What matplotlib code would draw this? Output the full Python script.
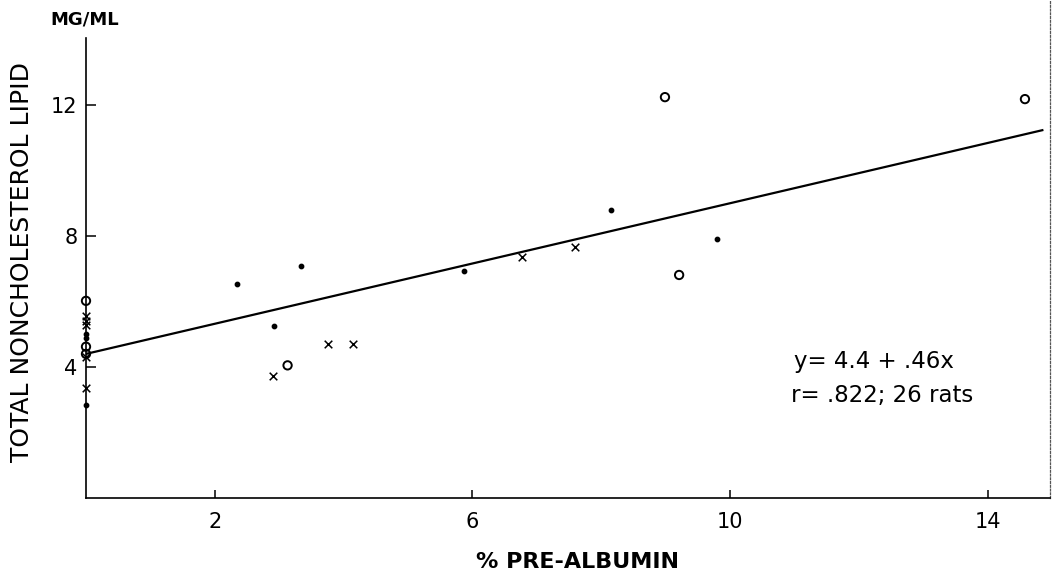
import matplotlib.pyplot as plt
import numpy as np

# values
circle_x = [0.0, 0.0, 0.0, 3.13, 8.99, 9.21, 14.58]
circle_y = [6.02, 4.62, 4.40, 4.05, 12.24, 6.81, 12.18]

cross_x = [0.0, 0.0, 0.0, 0.0, 0.0, 2.91, 3.75, 4.15, 6.77, 7.60]
cross_y = [5.55, 5.40, 5.28, 4.30, 3.35, 3.72, 4.69, 4.71, 7.36, 7.66]

dot_x = [0.0, 0.0, 0.0, 2.34, 2.92, 3.34, 5.87, 8.15, 9.80]
dot_y = [5.00, 4.88, 2.85, 6.53, 5.25, 7.07, 6.93, 8.78, 7.90]

intercept = 4.4
slope = 0.46
fit_x = [0.0, 14.85]

xticks = [2, 6, 10, 14]
yticks = [4, 8, 12]

fig = plt.figure(figsize=(10.59, 5.8), dpi=100)
W, H = 1059, 580
left, right, bottom, top = 86, 1050, 498, 0
ax = fig.add_axes([left / W, 1 - bottom / H, (right - left) / W, (bottom - top) / H])

px_x = 64.4   # pixels per x unit
px_y = 32.75  # pixels per y unit
ax.set_xlim(0, (right - left) / px_x)
ax.set_ylim(0, (bottom - top) / px_y)

# regression line
fx = np.array(fit_x)
ax.plot(fx, intercept + slope * fx, color='black', lw=1.6, zorder=2)

ax.scatter(circle_x, circle_y, s=36, facecolors='none', edgecolors='black',
           linewidths=1.4, zorder=3, clip_on=False)
ax.scatter(cross_x, cross_y, s=30, marker='x', color='black',
           linewidths=1.1, zorder=3, clip_on=False)
ax.scatter(dot_x, dot_y, s=10, color='black', zorder=3, clip_on=False)

# axes styling
ax.spines['top'].set_visible(False)
ax.spines['left'].set_bounds(0, (bottom - 38) / px_y)
ax.spines['left'].set_linewidth(1.2)
ax.spines['bottom'].set_linewidth(1.2)
ax.spines['right'].set_linestyle((0, (1.5, 1.5)))
ax.spines['right'].set_linewidth(0.9)
ax.spines['right'].set_color('#555555')

ax.set_xticks(xticks)
ax.set_yticks(yticks)
ax.set_xticklabels([str(t) for t in xticks], fontsize=15)
ax.set_yticklabels([str(t) for t in yticks], fontsize=15)
ax.tick_params(axis='x', direction='in', length=6, width=1.1, pad=10)
ax.tick_params(axis='y', direction='in', length=7, width=1.1, pad=6)

ax.text(0.734, 0.262, 'y= 4.4 + .46x', transform=ax.transAxes, fontsize=16.5)
ax.text(0.731, 0.192, 'r= .822; 26 rats', transform=ax.transAxes, fontsize=16.5)

fig.text(50 / W, 1 - 20 / H, 'MG/ML', fontsize=13, fontweight='bold',
         va='center', ha='left')
fig.text(22 / W, 1 - 262 / H, 'TOTAL NONCHOLESTEROL LIPID', rotation=90,
         fontsize=18, va='center', ha='center')
fig.text(578 / W, 1 - 562 / H, '% PRE-ALBUMIN', fontsize=16, fontweight='bold',
         va='center', ha='center')

fig.savefig('out.png', dpi=100)
